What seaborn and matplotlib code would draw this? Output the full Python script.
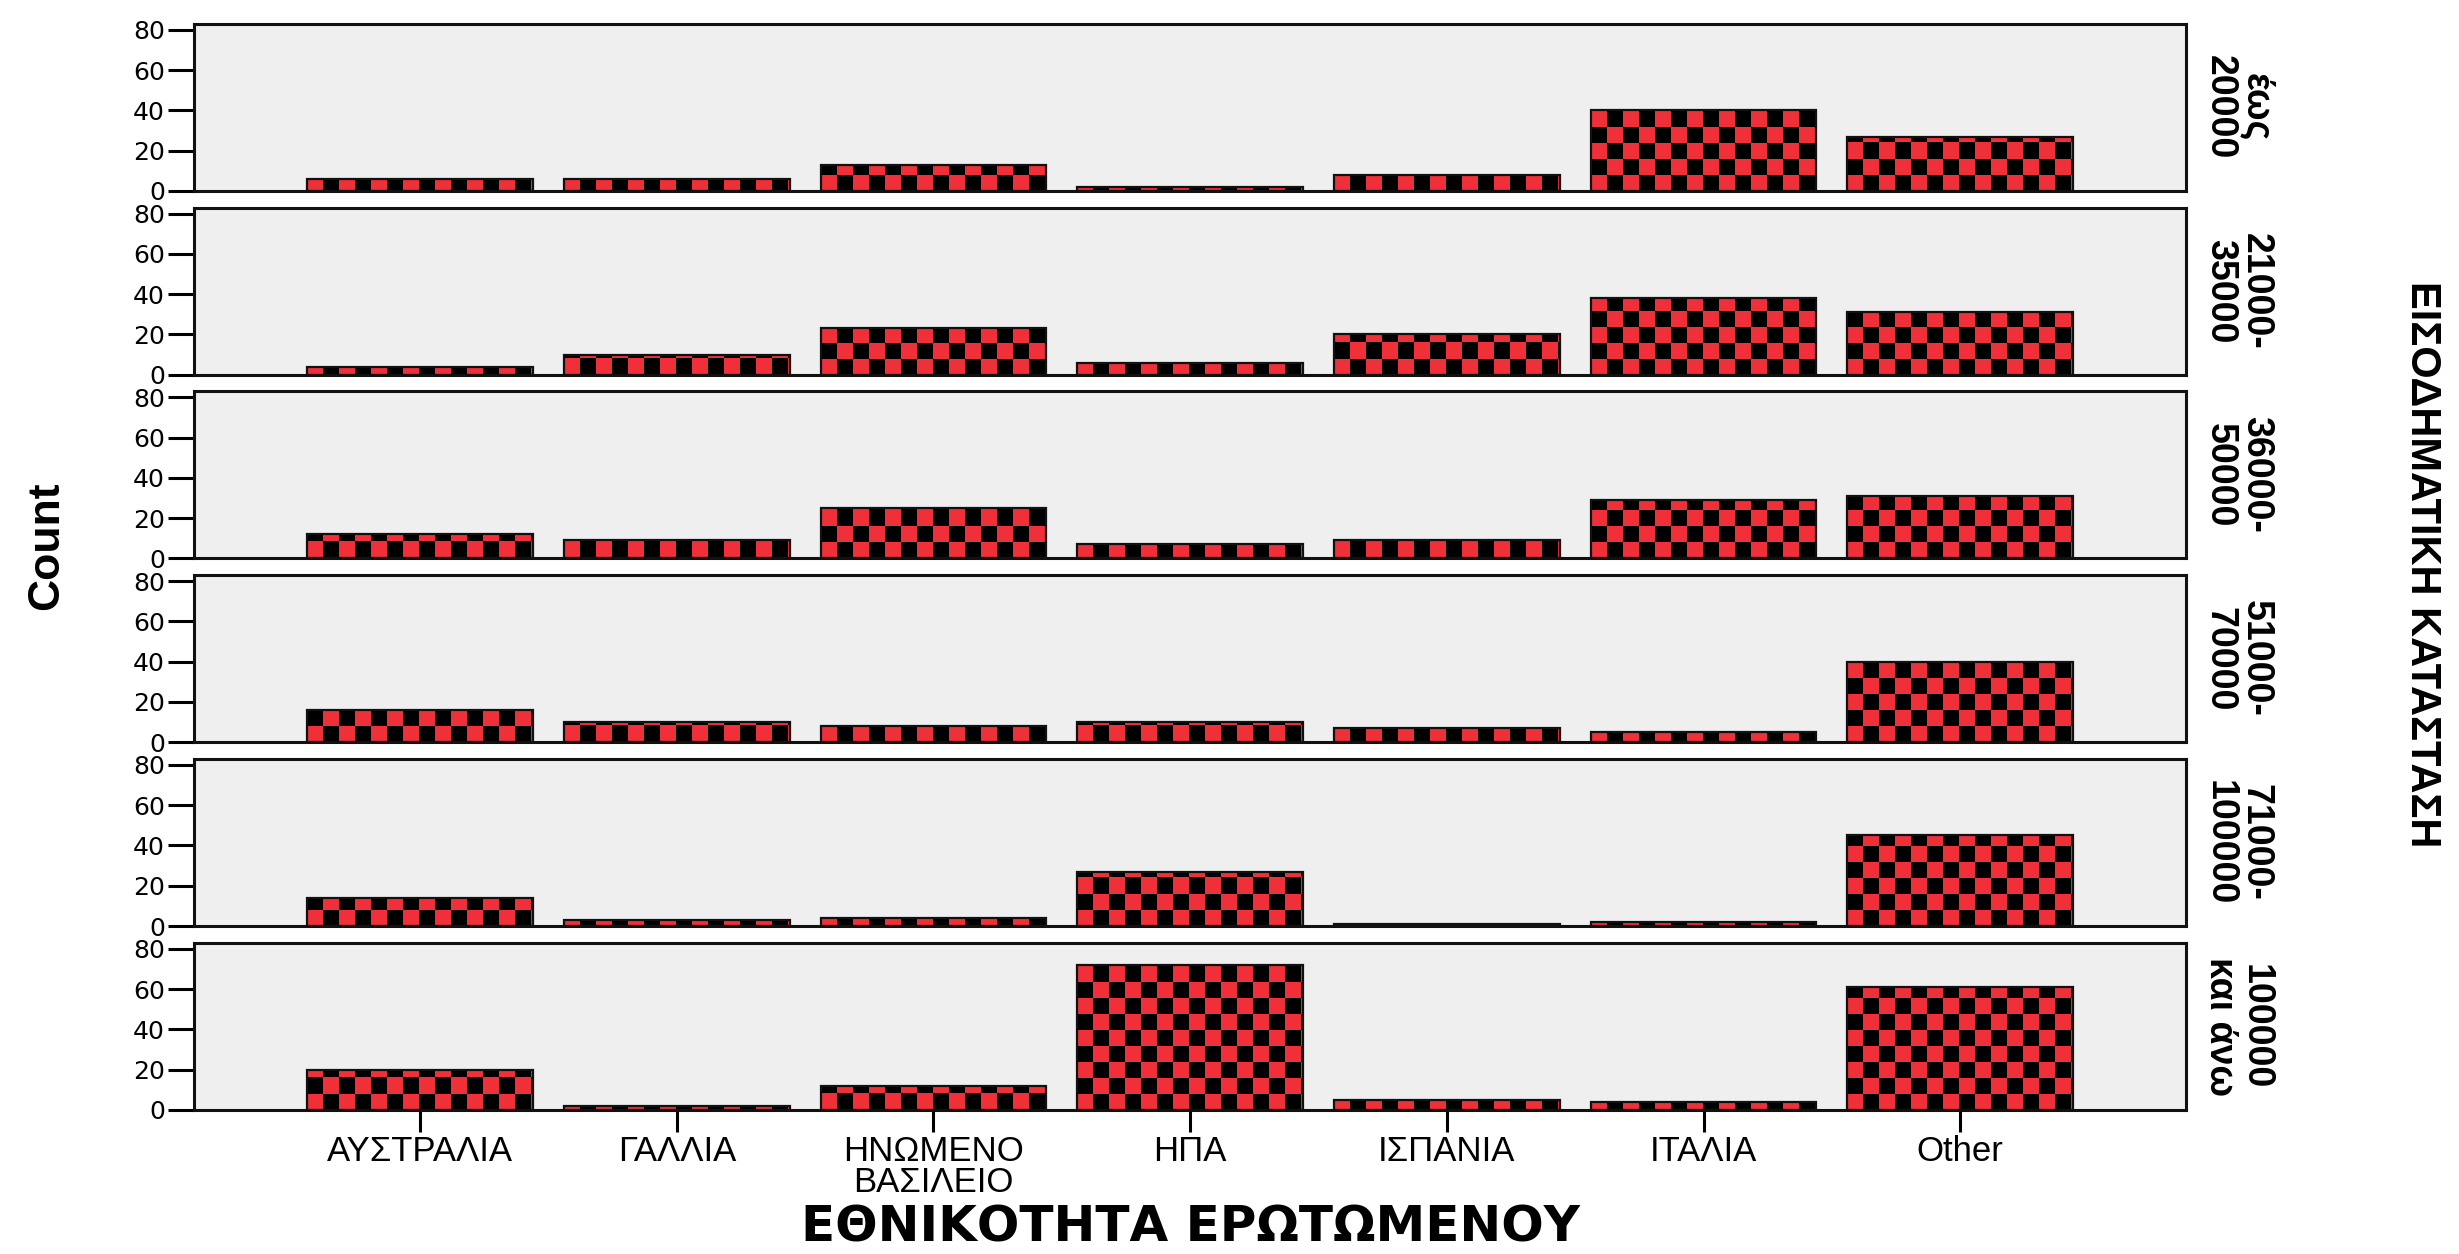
import numpy as np
import pandas as pd
import matplotlib
matplotlib.use("Agg")
import matplotlib.pyplot as plt
import seaborn as sns
from matplotlib.colors import ListedColormap

# Κατηγορίες και τιμές (Count) ανά εισοδηματική κατάσταση
categories = ["ΑΥΣΤΡΑΛΙΑ", "ΓΑΛΛΙΑ", "ΗΝΩΜΕΝΟ ΒΑΣΙΛΕΙΟ", "ΗΠΑ", "ΙΣΠΑΝΙΑ", "ΙΤΑΛΙΑ", "Other"]
tick_labels = ["ΑΥΣΤΡΑΛΙΑ", "ΓΑΛΛΙΑ", "ΗΝΩΜΕΝΟ\nΒΑΣΙΛΕΙΟ", "ΗΠΑ", "ΙΣΠΑΝΙΑ", "ΙΤΑΛΙΑ", "Other"]
income_levels = ["έως\n20000", "21000-\n35000", "36000-\n50000", "51000-\n70000", "71000-\n100000", "100000\nκαι άνω"]

counts_20000 = [6, 6, 13, 2, 8, 40, 27]
counts_35000 = [4, 10, 23, 6, 20, 38, 31]
counts_50000 = [12, 9, 25, 7, 9, 29, 31]
counts_70000 = [16, 10, 8, 10, 7, 5, 40]
counts_100000 = [14, 3, 4, 27, 1, 2, 45]
counts_over = [20, 2, 12, 72, 5, 4, 61]
all_counts = [counts_20000, counts_35000, counts_50000, counts_70000, counts_100000, counts_over]

RED = "#F03038"
NARROW = ["Liberation Sans Narrow", "Liberation Sans", "DejaVu Sans"]

plt.rcParams["font.family"] = ["Liberation Sans", "DejaVu Sans"]

fig = plt.figure(figsize=(24.59, 12.54), dpi=100)
axes = fig.subplots(6, 1, sharex=True, gridspec_kw=dict(hspace=0.1))
fig.subplots_adjust(left=0.079, right=0.889, top=0.981, bottom=0.115)

xlim = (-0.88, 6.88)
ylim = (0, 83)
cell_px = 16
ax_w_px = (0.889 - 0.079) * 2459
ax_h_px = (0.981 - 0.115) * 1254 / 6.5
nx = int(ax_w_px / cell_px) + 2
ny = int(ax_h_px / cell_px) + 2
cellw = (xlim[1] - xlim[0]) / (ax_w_px / cell_px)
cellh = (ylim[1] - ylim[0]) / (ax_h_px / cell_px)
checker = (np.add.outer(np.arange(ny), np.arange(nx)) % 2)
cmap = ListedColormap([RED, "black"])

for ax, level, vals in zip(axes, income_levels, all_counts):
    df = pd.DataFrame({"nat": categories, "count": vals})
    sns.barplot(data=df, x="nat", y="count", order=categories, color=RED,
                saturation=1, width=0.88, edgecolor="#111111", linewidth=1.6, ax=ax)

    # καρό γέμισμα στις μπάρες
    for patch in list(ax.patches):
        x0 = patch.get_x()
        im = ax.imshow(checker, extent=(x0, x0 + nx * cellw, 0, ny * cellh), origin="lower",
                       cmap=cmap, interpolation="nearest", aspect="auto",
                       zorder=patch.get_zorder() - 0.01)
        im.set_clip_path(patch)
        patch.set_facecolor("none")
    ax.set_xlim(*xlim)
    ax.set_ylim(*ylim)

    ax.set_facecolor("#EFEFEF")
    for s in ax.spines.values():
        s.set_linewidth(2.2)
        s.set_color("#111111")
    ax.set_yticks([0, 20, 40, 60, 80])
    ax.set_yticklabels(["0", "20", "40", "60", "80"], family=["DejaVu Sans"])
    ax.tick_params(axis="y", length=19, width=2.2, labelsize=18, pad=2)
    ax.tick_params(axis="x", length=0)
    ax.set_xlabel("")
    ax.set_ylabel("")
    ax.text(1.026, 0.5, level, transform=ax.transAxes, rotation=-90, ha="center", va="center",
            multialignment="center", fontsize=27, fontweight="bold", family=NARROW,
            linespacing=1.0)

bottom = axes[-1]
bottom.set_xticks(range(len(categories)))
bottom.set_xticklabels(tick_labels, fontsize=25, linespacing=0.95)
bottom.tick_params(axis="x", length=16, width=2.2, pad=2)

fig.text(0.484, 0.021, "ΕΘΝΙΚΟΤΗΤΑ ΕΡΩΤΩΜΕΝΟΥ", ha="center", va="center",
         fontsize=36, fontweight="bold", family=["DejaVu Sans"])
fig.text(0.019, 0.565, "Count", rotation=90, ha="center", va="center",
         fontsize=32, fontweight="bold", family=NARROW)
fig.text(0.985, 0.55, "ΕΙΣΟΔΗΜΑΤΙΚΗ ΚΑΤΑΣΤΑΣΗ", rotation=-90, ha="center", va="center",
         fontsize=30, fontweight="bold", family=NARROW)

plt.savefig("out.png", dpi=100)
